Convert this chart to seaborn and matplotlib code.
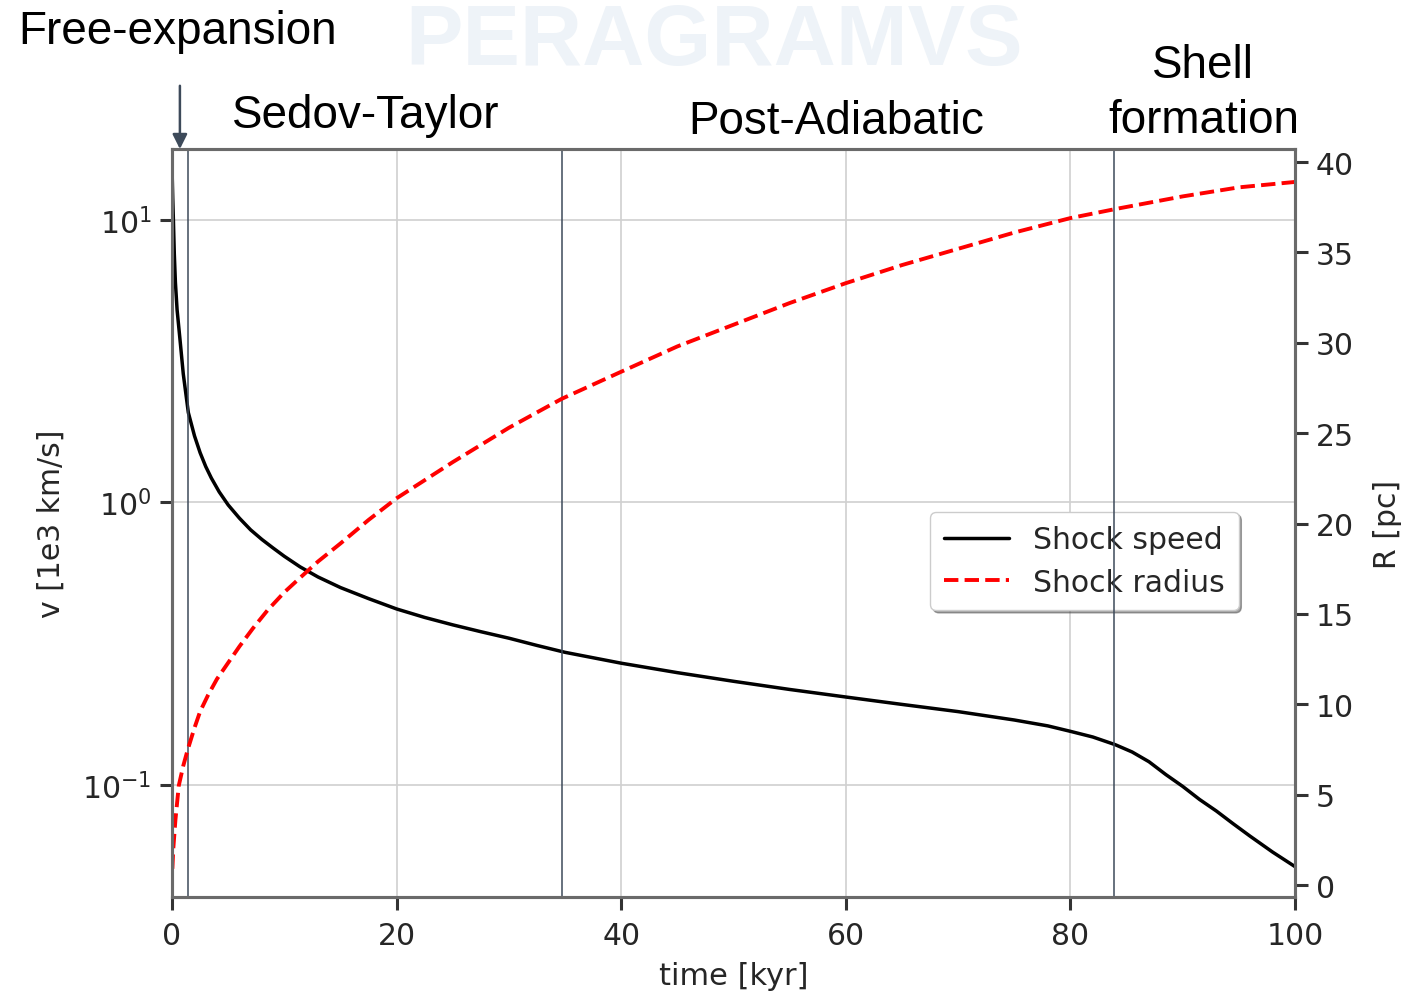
import matplotlib
matplotlib.use("Agg")
import matplotlib.pyplot as plt
import matplotlib.ticker as mticker
import numpy as np
import pandas as pd
import seaborn as sns

# Shock speed (1e3 km/s) versus time (kyr)
t_speed = [0.02, 0.06, 0.12, 0.2, 0.3, 0.45, 0.7, 1.0, 1.45, 2.0, 2.5, 3.0, 3.5,
           4.2, 5.0, 6.0, 7.0, 8.0, 9.0, 10.0, 11.4, 13.0, 15.0, 17.5, 20.0, 22.5,
           25.0, 27.5, 30.0, 32.5, 35.0, 40.0, 45.0, 50.0, 55.0, 60.0, 65.0, 70.0,
           75.0, 78.0, 80.0, 82.0, 84.0, 85.5, 87.0, 88.5, 90.0, 91.5, 93.0, 94.5,
           96.0, 98.0, 100.0]
v_speed = [14.0, 12.0, 10.0, 7.6, 6.0, 4.8, 3.8, 2.85, 2.08, 1.72, 1.5, 1.34, 1.22,
           1.09, 0.98, 0.88, 0.80, 0.74, 0.69, 0.645, 0.592, 0.545, 0.50, 0.457, 0.42,
           0.392, 0.369, 0.349, 0.331, 0.312, 0.295, 0.27, 0.25, 0.233, 0.218, 0.205,
           0.193, 0.182, 0.17, 0.162, 0.155, 0.148, 0.139, 0.131, 0.121, 0.109,
           0.099, 0.089, 0.081, 0.073, 0.066, 0.058, 0.0515]

# Shock radius (pc) versus time (kyr)
t_radius = [0.03, 0.11, 0.3, 0.6, 1.0, 1.4, 2.0, 2.5, 3.2, 4.0, 5.0, 6.0, 7.2, 8.5,
            10.0, 11.4, 13.0, 15.0, 17.5, 20.0, 25.0, 30.0, 34.7, 40.0, 45.0, 50.0,
            55.0, 60.0, 65.0, 70.0, 75.0, 80.0, 84.0, 90.0, 95.0, 100.0]
r_radius = [0.9, 2.0, 3.6, 5.5, 6.6, 7.5, 8.7, 9.6, 10.5, 11.4, 12.3, 13.2, 14.2,
            15.2, 16.2, 17.0, 17.9, 18.9, 20.2, 21.4, 23.4, 25.3, 26.9, 28.4, 29.8,
            31.0, 32.2, 33.3, 34.3, 35.2, 36.1, 36.9, 37.4, 38.1, 38.6, 38.9]

# Phase boundaries (kyr)
phase_bounds = [1.4, 34.7, 83.9]
x_ticks = [0, 20, 40, 60, 80, 100]
r_ticks = [0, 5, 10, 15, 20, 25, 30, 35, 40]

speed_df = pd.DataFrame({"time": t_speed, "speed": v_speed})
radius_df = pd.DataFrame({"time": t_radius, "radius": r_radius})

sns.set_theme(style="whitegrid")
plt.rcParams["font.family"] = ["DejaVu Sans"]

fig = plt.figure(figsize=(14.01, 9.95), dpi=100)

# faint logo lettering in the background
fig.text(0.51, 0.997, "PERAGRAMVS", ha="center", va="top", fontsize=62,
         fontweight="bold", color="#eef3f8", family="Liberation Sans", zorder=0)

ax = fig.add_axes([0.1228, 0.0975, 0.8015, 0.7517])
ax.set_zorder(1)
ax2 = ax.twinx()
ax2.set_zorder(2)
ax2.patch.set_visible(False)

sns.lineplot(data=speed_df, x="time", y="speed", ax=ax, color="black",
             linewidth=2.5, estimator=None, sort=False, label="Shock speed")
sns.lineplot(data=radius_df, x="time", y="radius", ax=ax2, color="red",
             linewidth=2.8, linestyle="--", estimator=None, sort=False,
             label="Shock radius")

for tb in phase_bounds:
    ax2.axvline(tb, color="#3d4a5a", linewidth=1.1, zorder=1)

ax.set_yscale("log")
ax.set_xlim(0, 100)
ax.set_ylim(0.0402, 17.8)
ax2.set_ylim(-0.66, 40.72)
ax.set_xticks(x_ticks)
ax2.set_yticks(r_ticks)
ax.yaxis.set_major_locator(mticker.LogLocator(base=10, numticks=10))
ax.yaxis.set_minor_locator(mticker.NullLocator())

ax.grid(True, which="major", color="#d0d0d0", linewidth=1.2)
ax2.grid(False)

ax.set_xlabel("time [kyr]", fontsize=22, color="#262626", labelpad=8)
ax.set_ylabel("v [1e3 km/s]", fontsize=21.5, color="#262626", labelpad=12)
ax2.set_ylabel("R [pc]", fontsize=21.5, color="#262626", labelpad=14)

for a in (ax, ax2):
    a.tick_params(axis="both", which="major", labelsize=21.5, length=9, width=2.2,
                  direction="out", color="#333333", labelcolor="#262626", pad=6)
    for s in a.spines.values():
        s.set_color("#6a6a6a")
        s.set_linewidth(2.2)
ax.tick_params(left=True, bottom=True)
ax.tick_params(axis="x", pad=8)
ax2.tick_params(right=True)

# combined legend on the lower axes so the phase lines run across it
h1, l1 = ax.get_legend_handles_labels()
h2, l2 = ax2.get_legend_handles_labels()
if ax2.get_legend() is not None:
    ax2.get_legend().remove()
leg = ax.legend(h1 + h2, l1 + l2, loc="upper left", bbox_to_anchor=(0.662, 0.535),
                fontsize=21.5, frameon=True, shadow=True, framealpha=1,
                fancybox=True, borderpad=0.45, handlelength=2.2,
                labelspacing=0.45)
leg.get_frame().set_edgecolor("#cccccc")
for txt in leg.get_texts():
    txt.set_color("#262626")

# phase names above the plot
fig.text(0.013, 0.968, "Free-expansion", fontsize=33, family="Liberation Sans",
         color="black", ha="left", va="center")
fig.text(0.261, 0.883, "Sedov-Taylor", fontsize=33, family="Liberation Sans",
         color="black", ha="center", va="center")
fig.text(0.597, 0.877, "Post-Adiabatic", fontsize=33, family="Liberation Sans",
         color="black", ha="center", va="center")
fig.text(0.859, 0.906, "Shell\nformation", fontsize=33, family="Liberation Sans",
         color="black", ha="center", va="center", linespacing=1.33)

ax2.annotate("", xy=(0.7, 40.72), xycoords="data",
             xytext=(0.7, 40.72 + 3.5), textcoords="data",
             arrowprops=dict(arrowstyle="-|>", color="#3d4a5a", lw=1.8,
                             mutation_scale=22, shrinkA=0, shrinkB=0),
             annotation_clip=False)

fig.savefig("out.png", dpi=100)
